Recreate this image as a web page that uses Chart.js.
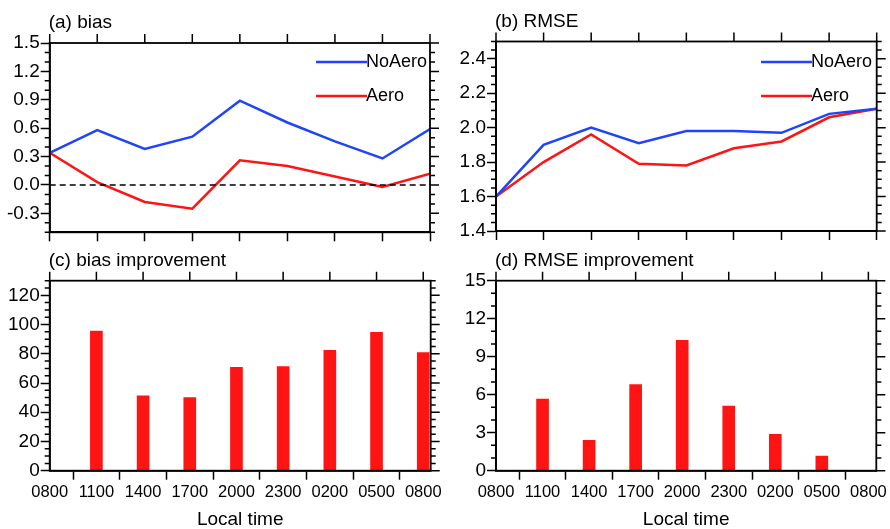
<!DOCTYPE html>
<html>
<head>
<meta charset="utf-8">
<script src="https://cdn.jsdelivr.net/npm/chart.js@4.4.1/dist/chart.umd.min.js"></script>
<style>
  html, body { margin: 0; padding: 0; background: #fff; }
  body { width: 890px; height: 529px; position: relative; overflow: hidden; }
  canvas { position: absolute; }
</style>
</head>
<body>
<canvas id="panelA" width="445" height="250" style="left:0;top:0;width:445px;height:250px"></canvas>
<canvas id="panelB" width="445" height="250" style="left:445px;top:0;width:445px;height:250px"></canvas>
<canvas id="panelC" width="445" height="284" style="left:0;top:245px;width:445px;height:284px"></canvas>
<canvas id="panelD" width="445" height="284" style="left:445px;top:245px;width:445px;height:284px"></canvas>
<script>
// Data
const hours = ['0800', '1100', '1400', '1700', '2000', '2300', '0200', '0500', '0800'];
const biasNoAero = [0.34, 0.58, 0.38, 0.51, 0.89, 0.66, 0.46, 0.28, 0.59];
const biasAero = [0.34, 0.03, -0.18, -0.25, 0.26, 0.20, 0.09, -0.02, 0.12];
const rmseNoAero = [1.60, 1.90, 2.00, 1.91, 1.98, 1.98, 1.97, 2.08, 2.11];
const rmseAero = [1.60, 1.80, 1.96, 1.79, 1.78, 1.88, 1.92, 2.06, 2.11];
const biasImprovement = [null, 95.6, 51.2, 50.1, 70.8, 71.3, 82.4, 94.7, 80.9];
const rmseImprovement = [null, 5.66, 2.39, 6.79, 10.29, 5.10, 2.87, 1.16, 0];

// Tick labels
const biasTicks = [-0.3, 0.0, 0.3, 0.6, 0.9, 1.2, 1.5];
const rmseTicks = [1.4, 1.6, 1.8, 2.0, 2.2, 2.4];
const biasImpTicks = [0, 20, 40, 60, 80, 100, 120];
const rmseImpTicks = [0, 3, 6, 9, 12, 15];

const FONT = "'Liberation Sans', Arial, Helvetica, sans-serif";
const BLUE = '#1f45fc';
const RED = '#ff1414';
Chart.defaults.font.family = FONT;
Chart.defaults.color = '#000';

function toPoints(values) {
    return values.map((v, i) => ({ x: i, y: v }));
}

// frame, minor ticks, mirrored ticks, title, legend, zero line
const decorations = {
    id: 'decorations',
    afterDatasetsDraw(chart) {
        const opts = chart.options.plugins.decorations;
        const ctx = chart.ctx;
        const area = chart.chartArea;
        const xs = chart.scales.x;
        const ys = chart.scales.y;
        ctx.save();

        if (opts.zeroLine) {
            const y0 = ys.getPixelForValue(0);
            ctx.strokeStyle = '#000';
            ctx.lineWidth = 1.5;
            ctx.setLineDash([6, 4]);
            ctx.beginPath();
            ctx.moveTo(area.left, y0);
            ctx.lineTo(area.right, y0);
            ctx.stroke();
            ctx.setLineDash([]);
        }

        ctx.strokeStyle = '#000';
        ctx.lineWidth = 1.8;
        ctx.strokeRect(area.left, area.top, area.right - area.left, area.bottom - area.top);

        ctx.lineWidth = 1.5;
        ctx.beginPath();
        // major ticks on right and top
        ys.ticks.forEach(t => {
            const py = ys.getPixelForValue(t.value);
            ctx.moveTo(area.right, py);
            ctx.lineTo(area.right + 9, py);
        });
        xs.ticks.forEach(t => {
            const px = xs.getPixelForValue(t.value);
            ctx.moveTo(px, area.top);
            ctx.lineTo(px, area.top - 9);
        });
        // minor ticks on left and right
        const majors = ys.ticks.map(t => t.value);
        const n = Math.round((ys.max - ys.min) / opts.minorStep);
        for (let i = 0; i <= n; i++) {
            const v = ys.min + i * opts.minorStep;
            if (majors.some(m => Math.abs(m - v) < opts.minorStep / 10)) continue;
            const py = ys.getPixelForValue(v);
            ctx.moveTo(area.left, py);
            ctx.lineTo(area.left - 5, py);
            ctx.moveTo(area.right, py);
            ctx.lineTo(area.right + 5, py);
        }
        ctx.stroke();

        // panel title
        ctx.fillStyle = '#000';
        ctx.font = '19px ' + FONT;
        ctx.textAlign = 'left';
        ctx.textBaseline = 'middle';
        ctx.fillText(opts.title, area.left - 1, area.top - 20);

        // legend
        if (opts.legend) {
            ctx.font = '18px ' + FONT;
            chart.data.datasets.forEach((ds, i) => {
                const ly = 62 + i * 34;
                ctx.strokeStyle = ds.borderColor;
                ctx.lineWidth = 2.5;
                ctx.beginPath();
                ctx.moveTo(316, ly);
                ctx.lineTo(367, ly);
                ctx.stroke();
                ctx.fillText(ds.label, 366, ly);
            });
        }
        ctx.restore();
    }
};

function makePanel(id, type, datasets, geo, yRange, yTicks, yDigits, xMax, showX, deco) {
    const canvas = document.getElementById(id);
    const H = canvas.height;
    const W = canvas.width;
    return new Chart(canvas, {
        type: type,
        data: { datasets: datasets },
        plugins: [decorations],
        options: {
            responsive: false,
            animation: false,
            events: [],
            layout: { padding: { left: 0, top: geo.top, right: W - geo.right, bottom: 0 } },
            plugins: {
                legend: { display: false },
                tooltip: { enabled: false },
                decorations: deco
            },
            scales: {
                x: {
                    type: 'linear',
                    min: 0,
                    max: xMax,
                    offset: false,
                    border: { display: true, color: '#000', width: 1.8 },
                    grid: { drawOnChartArea: false, drawTicks: true, tickLength: 9, tickColor: '#000', tickWidth: 1.5 },
                    afterBuildTicks: s => { s.ticks = hours.map((h, i) => ({ value: i })); },
                    afterFit: s => { s.height = H - geo.bottom; },
                    ticks: {
                        display: showX,
                        autoSkip: false,
                        maxRotation: 0,
                        padding: 3,
                        font: { size: 16.5 },
                        callback: v => hours[v]
                    },
                    title: {
                        display: showX,
                        text: 'Local time',
                        font: { size: 19, lineHeight: 1.0 },
                        padding: { top: 0, bottom: 0 }
                    }
                },
                y: {
                    min: yRange[0],
                    max: yRange[1],
                    border: { display: true, color: '#000', width: 1.8 },
                    grid: { drawOnChartArea: false, drawTicks: true, tickLength: 9, tickColor: '#000', tickWidth: 1.5 },
                    afterBuildTicks: s => { s.ticks = yTicks.map(v => ({ value: v })); },
                    afterFit: s => { s.width = geo.left; },
                    ticks: {
                        padding: 1,
                        font: { size: 19 },
                        callback: v => yDigits > 0 ? v.toFixed(yDigits) : String(v)
                    }
                }
            }
        }
    });
}

function lineSet(label, values, color) {
    return {
        label: label,
        data: toPoints(values),
        borderColor: color,
        backgroundColor: color,
        borderWidth: 2.5,
        pointRadius: 0,
        tension: 0,
        fill: false
    };
}

function barSet(label, values) {
    return {
        label: label,
        data: toPoints(values),
        backgroundColor: RED,
        borderWidth: 0,
        barThickness: 12
    };
}

makePanel('panelA', 'line',
    [lineSet('NoAero', biasNoAero, BLUE), lineSet('Aero', biasAero, RED)],
    { left: 49.7, right: 430, top: 43, bottom: 232.3 },
    [-0.5, 1.5], biasTicks, 1, 8, false,
    { title: '(a) bias', minorStep: 0.1, legend: true, zeroLine: true });

makePanel('panelB', 'line',
    [lineSet('NoAero', rmseNoAero, BLUE), lineSet('Aero', rmseAero, RED)],
    { left: 51, right: 431.7, top: 41.5, bottom: 231 },
    [1.4, 2.5], rmseTicks, 1, 8, false,
    { title: '(b) RMSE', minorStep: 0.05, legend: true, zeroLine: false });

makePanel('panelC', 'bar',
    [barSet('bias improvement', biasImprovement)],
    { left: 49.7, right: 430.7, top: 35.7, bottom: 225.7 },
    [0, 130], biasImpTicks, 0, 8.16, true,
    { title: '(c) bias improvement', minorStep: 5, legend: false, zeroLine: false });

makePanel('panelD', 'bar',
    [barSet('RMSE improvement', rmseImprovement)],
    { left: 51, right: 432.3, top: 35.7, bottom: 225.7 },
    [0, 15], rmseImpTicks, 0, 8.17, true,
    { title: '(d) RMSE improvement', minorStep: 1, legend: false, zeroLine: false });
</script>
</body>
</html>
